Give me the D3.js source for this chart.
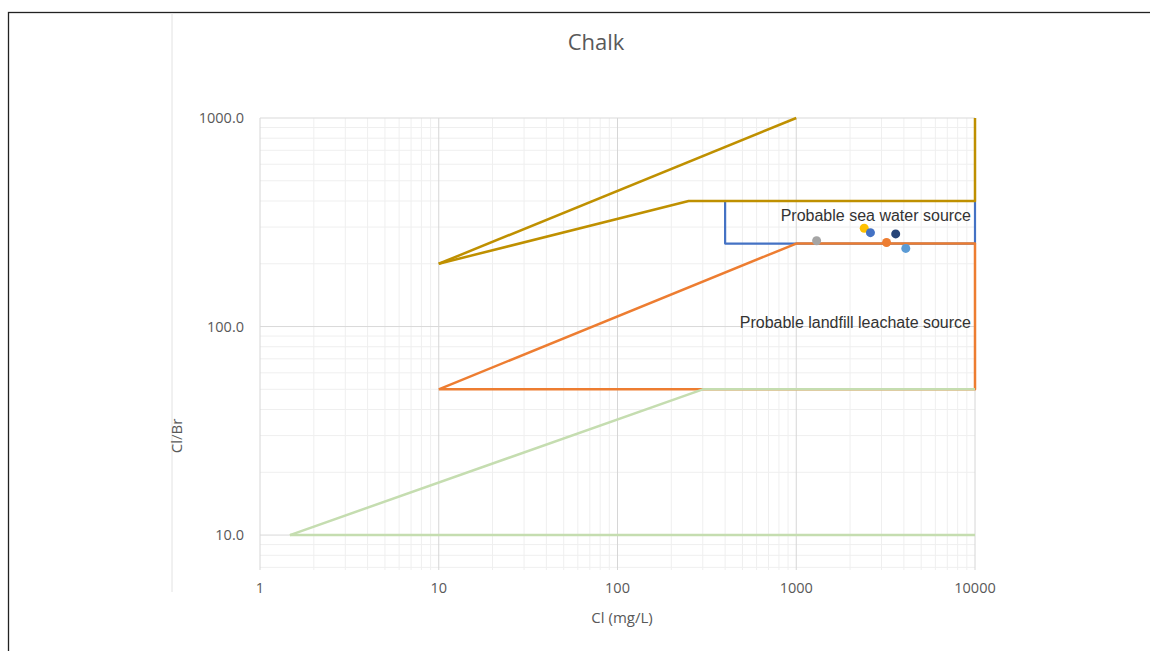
<!DOCTYPE html>
<html><head><meta charset="utf-8">
<script src="https://cdn.jsdelivr.net/npm/d3@7"></script>
<style>body{margin:0;background:#fff}</style>
</head><body>
<svg id="c" width="1150" height="651"></svg>
<script>
const xTicks = [1, 10, 100, 1000, 10000];
const yTicks = [10, 100, 1000];
const yTickLabels = ["10.0", "100.0", "1000.0"];
const xDomain = [1, 10000];
const yDomain = [6.8, 1000];

// boundary lines [Cl, Cl/Br]
const goldUpper = [[10, 200], [1000, 1000]];
const goldLower = [[10, 200], [250, 400], [10000, 400], [10000, 1000]];
const blueBox = [[400, 400], [400, 250], [10000, 250], [10000, 400]];
const orangeBox = [[10, 50], [1000, 250], [10000, 250], [10000, 50], [10, 50]];
const greenUpper = [[1.47, 10], [300, 50], [10000, 50]];
const greenLower = [[1.47, 10], [10000, 10]];

// samples
const sampleCl = [1300, 2400, 2600, 3600, 3200, 4100];
const sampleRatio = [258, 296, 282, 278, 253, 237];
const sampleColors = ["#A5A5A5", "#FFC000", "#4472C4", "#264478", "#ED7D31", "#5B9BD5"];

const svg = d3.select("#c");
const x = d3.scaleLog().domain(xDomain).range([260, 975]);
const y = d3.scaleLog().domain(yDomain).range([570, 118]);

// frame
svg.append("rect").attr("x", 8.5).attr("y", 12.5).attr("width", 1160).attr("height", 660)
  .attr("fill", "none").attr("stroke", "#222").attr("stroke-width", 1.3);
svg.append("line").attr("x1", 172).attr("x2", 172).attr("y1", 13).attr("y2", 592)
  .attr("stroke", "#e2e2e2").attr("stroke-width", 1);

// minor grid
const g = svg.append("g");
for (let d = 1; d < 10000; d *= 10) {
  for (let k = 2; k <= 9; k++) {
    const v = d * k;
    g.append("line").attr("x1", x(v)).attr("x2", x(v)).attr("y1", 118).attr("y2", 570)
      .attr("stroke", "#efefef").attr("stroke-width", 1);
  }
}
for (let d = 1; d < 1000; d *= 10) {
  for (let k = 2; k <= 9; k++) {
    const v = d * k;
    if (v < yDomain[0]) continue;
    g.append("line").attr("x1", 260).attr("x2", 975).attr("y1", y(v)).attr("y2", y(v))
      .attr("stroke", "#efefef").attr("stroke-width", 1);
  }
}
// major grid
xTicks.forEach(v => g.append("line").attr("x1", x(v)).attr("x2", x(v)).attr("y1", 118).attr("y2", 570)
  .attr("stroke", "#d6d6d6").attr("stroke-width", 1));
yTicks.forEach(v => g.append("line").attr("x1", 260).attr("x2", 975).attr("y1", y(v)).attr("y2", y(v))
  .attr("stroke", "#d9d9d9").attr("stroke-width", 1));

// lines
const line = d3.line().x(d => x(d[0])).y(d => y(d[1]));
const drawLine = (data, color, w) => svg.append("path").attr("d", line(data))
  .attr("fill", "none").attr("stroke", color).attr("stroke-width", w).attr("stroke-linejoin", "round");
drawLine(blueBox, "#4472C4", 2.2);
drawLine(orangeBox, "#ED7D31", 2.5);
drawLine(greenUpper, "#C5DDB0", 2.5);
drawLine(greenLower, "#C5DDB0", 2.5);
drawLine(goldLower, "#BF9000", 2.5);
drawLine(goldUpper, "#BF9000", 2.5);

// annotations
const aFont = "Liberation Sans, Arial, sans-serif";
svg.append("text").attr("x", 971).attr("y", 221).attr("text-anchor", "end")
  .attr("font-family", aFont).attr("font-size", 16).attr("fill", "#333")
  .text("Probable sea water source");
svg.append("text").attr("x", 971).attr("y", 328).attr("text-anchor", "end")
  .attr("font-family", aFont).attr("font-size", 16).attr("fill", "#333")
  .text("Probable landfill leachate source");

// points
svg.append("g").selectAll("circle").data(sampleCl).join("circle")
  .attr("cx", d => x(d)).attr("cy", (d, i) => y(sampleRatio[i])).attr("r", 4.5)
  .attr("fill", (d, i) => sampleColors[i]);

// tick labels
const font = "Open Sans, sans-serif";
svg.append("g").selectAll("text").data(xTicks).join("text")
  .attr("x", d => x(d)).attr("y", 593).attr("text-anchor", "middle")
  .attr("font-family", font).attr("font-size", 14.5).attr("fill", "#595959").text(d => d);
svg.append("g").selectAll("text").data(yTicks).join("text")
  .attr("x", 244).attr("y", d => y(d) + 5).attr("text-anchor", "end")
  .attr("font-family", font).attr("font-size", 14.5).attr("fill", "#595959").text((d, i) => yTickLabels[i]);

// titles
svg.append("text").attr("x", 596).attr("y", 50).attr("text-anchor", "middle")
  .attr("font-family", font).attr("font-size", 22).attr("fill", "#595959").text("Chalk");
svg.append("text").attr("x", 622).attr("y", 623).attr("text-anchor", "middle")
  .attr("font-family", font).attr("font-size", 15).attr("fill", "#595959").text("Cl (mg/L)");
svg.append("text").attr("transform", "translate(182,436) rotate(-90)").attr("text-anchor", "middle")
  .attr("font-family", font).attr("font-size", 15).attr("fill", "#595959").text("Cl/Br");
</script>
</body></html>
